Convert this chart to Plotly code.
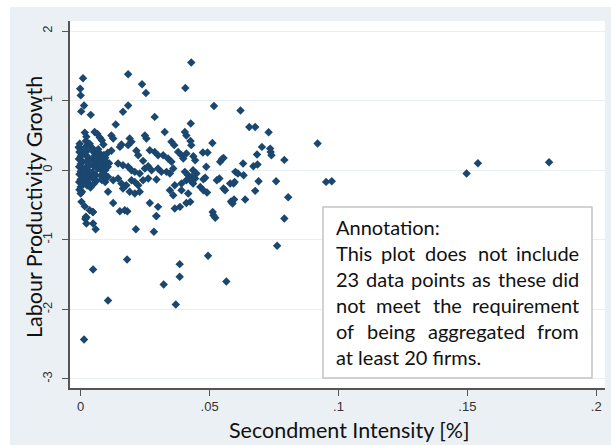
import plotly.graph_objects as go

# ---------------- data ----------------
secondment_intensity = [
    0.0429, 0.0184, 0.0009, 0.0238, -0.0002, 0.0406, 0.0253, 0.0000, 0.0013, 0.0517,
    0.0184, 0.0002, 0.0164, 0.0620, 0.0039, 0.0287, 0.0654, 0.0677, 0.0427, 0.0136,
    0.0326, 0.0404, 0.0729, 0.0919, 0.0511, 0.1817, 0.1541, 0.1497, 0.0952, 0.0974,
    0.0790, 0.0805, 0.0790, 0.0758, 0.0762, 0.0494, 0.0565, 0.0384, 0.0384, 0.0322,
    0.0369, 0.0180, 0.0048, 0.0106, 0.0013, 0.0214, 0.0284, 0.0293, 0.0058, 0.0022,
    0.0018, 0.0020, 0.0047, 0.0512, 0.0515, 0.0522,
    # band 0.3 .. 0.55
    0.0016, 0.0022, 0.0054, 0.0065, 0.0074, 0.0119, 0.0126, 0.0158, 0.0152, 0.0190,
    0.0197, 0.0249, 0.0255, 0.0410, 0.0352, 0.0363, 0.0426, 0.0429, 0.0082, 0.0088,
    # band 0.0 .. 0.3
    0.0119, 0.0184, 0.0216, 0.0223, 0.0242, 0.0268, 0.0287, 0.0300, 0.0320, 0.0339,
    0.0352, 0.0378, 0.0391, 0.0398, 0.0410, 0.0145, 0.0164, 0.0184, 0.0197, 0.0210,
    0.0229, 0.0249, 0.0262, 0.0275, 0.0300, 0.0313, 0.0333, 0.0346, 0.0359, 0.0404,
    0.0417, 0.0436, 0.0449,
    # band -0.35 .. 0
    0.0106, 0.0126, 0.0145, 0.0158, 0.0177, 0.0197, 0.0210, 0.0223, 0.0242, 0.0262,
    0.0294, 0.0365, 0.0391, 0.0410, 0.0436, 0.0106, 0.0164, 0.0190, 0.0210, 0.0229,
    0.0346, 0.0359, 0.0391, 0.0417,
    # band -0.8 .. -0.45
    0.0003, 0.0016, 0.0035, 0.0048, 0.0126, 0.0152, 0.0171, 0.0181, 0.0268, 0.0300,
    0.0294, 0.0365, 0.0385, 0.0410, 0.0022, 0.0048,
    # x .043 .. .08
    0.0474, 0.0492, 0.0437, 0.0444, 0.0487, 0.0548, 0.0541, 0.0554, 0.0630, 0.0703,
    0.0735, 0.0737, 0.0740, 0.0684, 0.0670, 0.0686, 0.0600, 0.0610, 0.0632, 0.0431,
    0.0444, 0.0425, 0.0483, 0.0538, 0.0528, 0.0580, 0.0593, 0.0597, 0.0464, 0.0476,
    0.0490, 0.0554, 0.0560, 0.0677, 0.0583, 0.0589, 0.0595, 0.0638, 0.0425, 0.0690,
    0.0476, 0.0000,
    # dense cluster near zero
    -0.0008, 0.0000, -0.0005, 0.0008, 0.0000, -0.0007, 0.0006, 0.0000, -0.0006, 0.0008,
    0.0000, -0.0005, 0.0007, 0.0000, -0.0006, 0.0008, 0.0000, -0.0005, 0.0005, -0.0004,
    0.0020, 0.0025, 0.0018, 0.0030, 0.0022, 0.0035, 0.0018, 0.0030, 0.0022, 0.0035,
    0.0018, 0.0030, 0.0025, 0.0038, 0.0020, 0.0035,
    0.0045, 0.0050, 0.0055, 0.0045, 0.0060, 0.0050, 0.0065, 0.0045, 0.0058, 0.0048,
    0.0062, 0.0050, 0.0068, 0.0065,
    0.0075, 0.0080, 0.0085, 0.0090, 0.0095, 0.0078, 0.0088, 0.0098, 0.0105, 0.0075,
    0.0085, 0.0095, 0.0078, 0.0092, 0.0102, 0.0082, 0.0095, 0.0105, 0.0110,
]

labour_productivity_growth = [
    1.547, 1.380, 1.320, 1.236, 1.170, 1.180, 1.110, 1.075, 0.930, 0.924,
    0.930, 0.845, 0.840, 0.857, 0.795, 0.766, 0.622, 0.622, 0.670, 0.656,
    0.550, 0.550, 0.546, 0.385, 0.390, 0.115, 0.100, -0.048, -0.168, -0.158,
    0.148, -0.390, -0.694, -0.158, -1.087, -1.231, -1.600, -1.350, -1.532, -1.643,
    -1.930, -1.283, -1.428, -1.872, -2.433, -0.848, -0.886, -0.660, -0.848, -0.766,
    -0.700, -0.670, -0.600, -0.600, -0.646, -0.685,
    0.540, 0.480, 0.550, 0.520, 0.470, 0.500, 0.455, 0.370, 0.335, 0.455,
    0.410, 0.500, 0.455, 0.500, 0.410, 0.360, 0.420, 0.360, 0.430, 0.370,
    0.280, 0.360, 0.280, 0.215, 0.134, 0.287, 0.263, 0.215, 0.215, 0.168,
    0.120, 0.263, 0.215, 0.168, 0.240, 0.096, 0.072, 0.048, 0.000, -0.024,
    -0.048, 0.024, 0.057, 0.000, 0.024, -0.024, -0.024, -0.048, 0.024, -0.024,
    -0.072, 0.000, -0.048,
    -0.096, -0.144, -0.120, -0.190, -0.215, -0.144, -0.168, -0.215, -0.144, -0.120,
    -0.134, -0.215, -0.190, -0.144, -0.190, -0.310, -0.263, -0.310, -0.335, -0.310,
    -0.287, -0.360, -0.287, -0.335,
    -0.455, -0.520, -0.575, -0.600, -0.470, -0.590, -0.575, -0.590, -0.470, -0.527,
    -0.660, -0.550, -0.527, -0.470, -0.680, -0.766,
    0.254, 0.254, 0.200, 0.144, 0.048, 0.158, 0.120, 0.177, 0.096, 0.335,
    0.310, 0.260, 0.215, 0.225, 0.057, 0.081, -0.024, -0.048, -0.072, -0.096,
    -0.120, -0.144, -0.110, -0.120, -0.144, -0.190, -0.190, -0.170, -0.240, -0.287,
    -0.320, -0.263, -0.287, -0.297, -0.450, -0.480, -0.420, -0.420, -0.455, -0.158,
    -0.130, -0.335,
    0.330, 0.300, 0.260, 0.240, 0.200, 0.160, 0.130, 0.090, 0.050, 0.020,
    -0.020, -0.060, -0.090, -0.130, -0.170, -0.200, -0.240, -0.280, -0.310, 0.380,
    0.340, 0.280, 0.220, 0.180, 0.120, 0.070, 0.030, -0.010, -0.050, -0.100,
    -0.140, -0.180, -0.220, -0.250, 0.420, 0.380,
    0.320, 0.260, 0.210, 0.150, 0.110, 0.060, 0.020, -0.030, -0.070, -0.120,
    -0.150, -0.200, 0.300, 0.170,
    0.240, 0.200, 0.150, 0.220, 0.180, 0.100, 0.070, 0.120, 0.050, 0.040,
    -0.020, 0.000, -0.080, -0.060, -0.100, -0.140, -0.170, 0.250, 0.100,
]

x_tick_values = [0, 0.05, 0.1, 0.15, 0.2]
x_tick_labels = ["0", ".05", ".1", ".15", ".2"]
y_tick_values = [-3, -2, -1, 0, 1, 2]
y_tick_labels = ["-3", "-2", "-1", "0", "1", "2"]

x_title = "Secondment Intensity [%]"
y_title = "Labour Productivity Growth"
note_lines = [
    ("Annotation:", False),
    ("This plot does not include", True),
    ("23 data points as these did", True),
    ("not meet the requirement", True),
    ("of being aggregated from", True),
    ("at least 20 firms.", False),
]

# ---------------- layout geometry (pixels) ----------------
W, H = 611, 445
PL, PR, PT, PB = 70, 605, 21, 388  # plot area edges


def px_x(px):
    return (px - PL) / (PR - PL)


def px_y(py):
    return (PB - py) / (PB - PT)


NAVY = "#1a476f"
BG = "#eaf0f4"
TEXT_FONT = "Lato, 'Open Sans', sans-serif"

fig = go.Figure()
fig.add_trace(go.Scatter(
    x=secondment_intensity, y=labour_productivity_growth, mode="markers",
    marker=dict(symbol="diamond", size=6.5, color=NAVY, line=dict(width=0)),
    showlegend=False, hoverinfo="skip",
))

shapes = [
    # white outer strips
    dict(type="rect", xref="paper", yref="paper", x0=px_x(-5), x1=px_x(10),
         y0=px_y(H + 5), y1=px_y(-5), fillcolor="white", line=dict(width=0), layer="above"),
    dict(type="rect", xref="paper", yref="paper", x0=px_x(-5), x1=px_x(W + 5),
         y0=px_y(7), y1=px_y(-5), fillcolor="white", line=dict(width=0), layer="above"),
    # annotation box
    dict(type="rect", xref="paper", yref="paper", x0=px_x(323), x1=px_x(592),
         y0=px_y(378), y1=px_y(207), fillcolor="white",
         line=dict(color="#c4c4c4", width=1.5), layer="above"),
]

annotations = [
    dict(text=y_title, xref="paper", yref="paper", x=px_x(34), y=px_y(207),
         textangle=-90, showarrow=False, xanchor="center", yanchor="middle",
         font=dict(family=TEXT_FONT, size=21.5, color="#111")),
    dict(text=x_title, xref="paper", yref="paper", x=px_x(349), y=px_y(430),
         showarrow=False, xanchor="center", yanchor="middle",
         font=dict(family=TEXT_FONT, size=21.5, color="#111")),
]

# approximate Lato advance widths (em) for justification
CW = dict(a=.49, b=.55, c=.45, d=.55, e=.51, f=.31, g=.5, h=.55, i=.23, j=.23, k=.49,
          l=.23, m=.83, n=.55, o=.55, p=.55, q=.55, r=.35, s=.41, t=.33, u=.55, v=.49,
          w=.76, x=.48, y=.49, z=.44)
CW.update({d: .58 for d in "0123456789"})
CW.update({"T": .54, "A": .66, ":": .24, ".": .22})


def word_w(wd, fs):
    return sum(CW.get(ch, .55) for ch in wd) * fs


FS = 20
TL, TR = 335, 580
line_y = [227, 253, 279, 305, 331, 357]
for (line, just), ly in zip(note_lines, line_y):
    if not just:
        annotations.append(dict(text=line, xref="paper", yref="paper", x=px_x(TL - 1), y=px_y(ly),
                                showarrow=False, xanchor="left", yanchor="middle",
                                font=dict(family=TEXT_FONT, size=FS, color="#111")))
        continue
    words = line.split(" ")
    widths = [word_w(w_, FS) for w_ in words]
    gap = (TR - TL - sum(widths)) / (len(words) - 1)
    pos = TL
    for k, (wd, ww) in enumerate(zip(words, widths)):
        if k == 0:
            xa, xp = "left", pos - 1
        elif k == len(words) - 1:
            xa, xp = "right", TR + 1
        else:
            xa, xp = "center", pos + ww / 2
        annotations.append(dict(text=wd, xref="paper", yref="paper", x=px_x(xp), y=px_y(ly),
                                showarrow=False, xanchor=xa, yanchor="middle",
                                font=dict(family=TEXT_FONT, size=FS, color="#111")))
        pos += ww + gap

fig.update_layout(
    width=W, height=H,
    margin=dict(l=PL, r=W - PR, t=PT, b=H - PB, pad=0),
    paper_bgcolor=BG, plot_bgcolor="white",
    shapes=shapes, annotations=annotations,
    xaxis=dict(range=[-0.00415, 0.2034], tickvals=x_tick_values, ticktext=x_tick_labels,
               showgrid=False, zeroline=False, showline=True, linecolor="#555", linewidth=1.5,
               ticks="outside", ticklen=6, tickcolor="#555", tickwidth=1.2,
               tickfont=dict(family="Arial, 'Liberation Sans'", size=13, color="#333")),
    yaxis=dict(range=[-3.13, 2.144], tickvals=y_tick_values, ticktext=y_tick_labels,
               tickangle=-90, showgrid=True, gridcolor="#e8eff3", gridwidth=1,
               zeroline=False, showline=True, linecolor="#555", linewidth=1.5,
               ticks="outside", ticklen=6, tickcolor="#555", tickwidth=1.2,
               ticklabelstandoff=5,
               tickfont=dict(family="Arial, 'Liberation Sans'", size=13, color="#333")),
)

fig.write_html("out.html")
